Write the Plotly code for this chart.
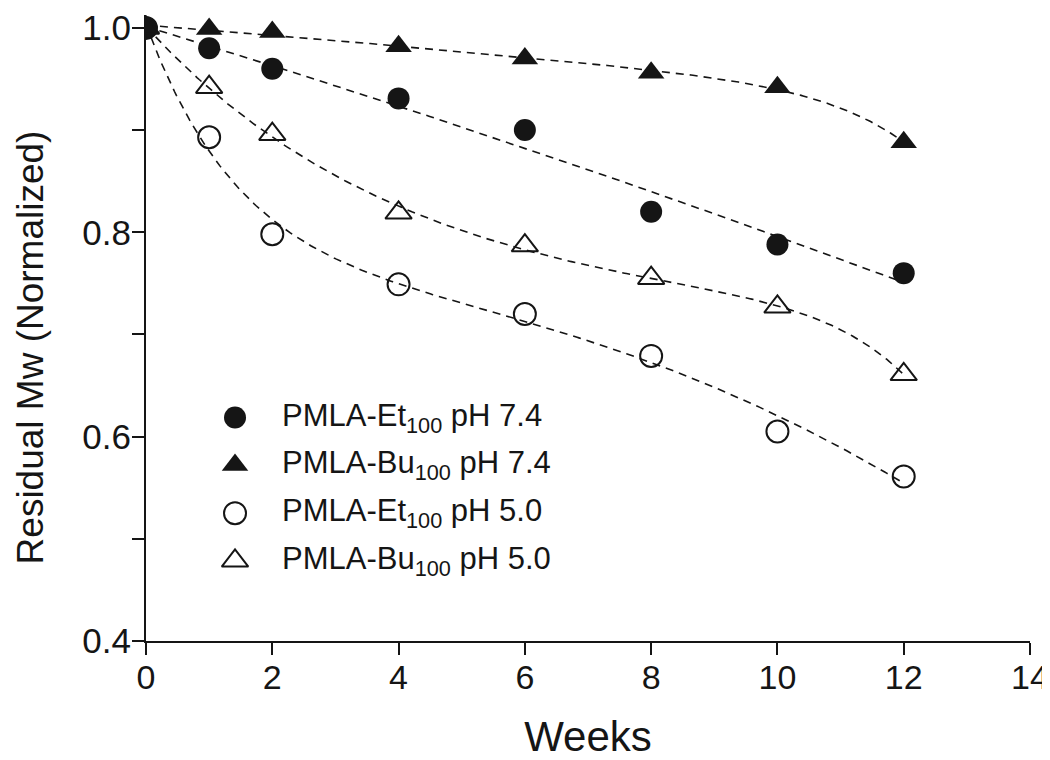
import numpy as np
import plotly.graph_objects as go

weeks = [0, 1, 2, 4, 6, 8, 10, 12]
et_74 = [1.0, 0.980, 0.960, 0.931, 0.900, 0.820, 0.788, 0.760]
bu_74 = [1.0, 0.999, 0.996, 0.982, 0.970, 0.956, 0.942, 0.888]
et_50 = [1.0, 0.893, 0.798, 0.749, 0.720, 0.679, 0.605, 0.561]
bu_50 = [1.0, 0.942, 0.896, 0.819, 0.787, 0.755, 0.727, 0.661]

names = ["PMLA-Et<sub>100</sub> pH 7.4", "PMLA-Bu<sub>100</sub> pH 7.4",
         "PMLA-Et<sub>100</sub> pH 5.0", "PMLA-Bu<sub>100</sub> pH 5.0"]
series = [et_74, bu_74, et_50, bu_50]
symbols = ["circle", "triangle-up", "circle-open", "triangle-up-open"]
# fit model terms on top of 1, x: "quad" = x^2 ; "exp" = early decay ; "late" = late drop
fit_terms = [["quad"], ["quad", "late"], ["exp", "quad"], ["exp", "late"]]


def basis(x, terms, tau):
    x = np.asarray(x, dtype=float)
    cols = [np.ones_like(x), x]
    for t in terms:
        if t == "quad":
            cols.append(x ** 2)
        elif t == "exp":
            cols.append(np.exp(-x / tau))
        elif t == "late":
            cols.append((x / 12.0) ** 10)
    return np.column_stack(cols)


def fit_curve(x, y, terms, xs):
    best = None
    taus = np.linspace(0.4, 5, 93) if "exp" in terms else [1.0]
    for tau in taus:
        A = basis(x, terms, tau)
        coef, *_ = np.linalg.lstsq(A, np.asarray(y), rcond=None)
        err = np.sum((A @ coef - y) ** 2)
        if best is None or err < best[0]:
            best = (err, tau, coef)
    _, tau, coef = best
    return basis(xs, terms, tau) @ coef


FONT = "Liberation Sans, Arial, sans-serif"
INK = "#151515"
fig = go.Figure()

xs = np.linspace(0, 12, 400)
for ys, terms in zip(series, fit_terms):
    fig.add_trace(go.Scatter(x=xs, y=fit_curve(weeks, ys, terms, xs), mode="lines",
                             line=dict(color=INK, width=1.6, dash="8px,6px"),
                             showlegend=False, hoverinfo="skip"))


def mk(sym):
    tri = "triangle" in sym
    return dict(symbol=sym, size=23 if tri else 22, color=INK,
                line=dict(color=INK, width=2 if "open" in sym else 0))


for ys, sym, nm in zip(series, symbols, names):
    fig.add_trace(go.Scatter(x=weeks, y=ys, mode="markers", name=nm, showlegend=False,
                             marker=mk(sym)))

# manual legend on an overlay axis (0..1 of plot area)
leg_y = [0.357, 0.281, 0.204, 0.128]
for sym, nm, ly in zip(symbols, names, leg_y):
    fig.add_trace(go.Scatter(x=[0.1007], y=[ly], xaxis="x2", yaxis="y2", mode="markers",
                             showlegend=False, hoverinfo="skip", marker=mk(sym)))
    fig.add_annotation(x=0.1516, y=ly, xref="x2", yref="y2", text=nm, showarrow=False,
                       xanchor="left", yanchor="middle",
                       font=dict(family=FONT, size=31, color=INK))

fig.add_annotation(x=0, y=0.469, xref="paper", yref="paper", xshift=-116,
                   text="Residual Mw (Normalized)", textangle=-90, showarrow=False,
                   xanchor="center", yanchor="middle",
                   font=dict(family=FONT, size=37, color=INK))

fig.update_layout(
    width=1042, height=752,
    margin=dict(l=138, r=20, t=0, b=119),
    paper_bgcolor="white", plot_bgcolor="white",
    font=dict(family=FONT, color=INK),
    showlegend=False,
    xaxis=dict(range=[0, 14], tickvals=[0, 2, 4, 6, 8, 10, 12, 14],
               showline=True, linecolor=INK, linewidth=2,
               ticks="outside", ticklen=12, tickwidth=2, tickcolor=INK,
               showgrid=False, zeroline=False, ticklabelstandoff=-7,
               ticklabeloverflow="allow",
               tickfont=dict(size=34, family=FONT),
               title=dict(text="Weeks", font=dict(size=42, family=FONT), standoff=30)),
    yaxis=dict(range=[0.4, 1.0126], tickvals=[0.4, 0.5, 0.6, 0.7, 0.8, 0.9, 1.0],
               ticktext=["0.4", "", "0.6", "", "0.8", "", "1.0"],
               showline=True, linecolor=INK, linewidth=2,
               ticks="outside", ticklen=12, tickwidth=2, tickcolor=INK,
               showgrid=False, zeroline=False, ticklabeloverflow="allow",
               ticklabelstandoff=-6,
               tickfont=dict(size=35, family=FONT)),
    xaxis2=dict(overlaying="x", range=[0, 1], visible=False),
    yaxis2=dict(overlaying="y", range=[0, 1], visible=False),
)

fig.write_html("out.html")
